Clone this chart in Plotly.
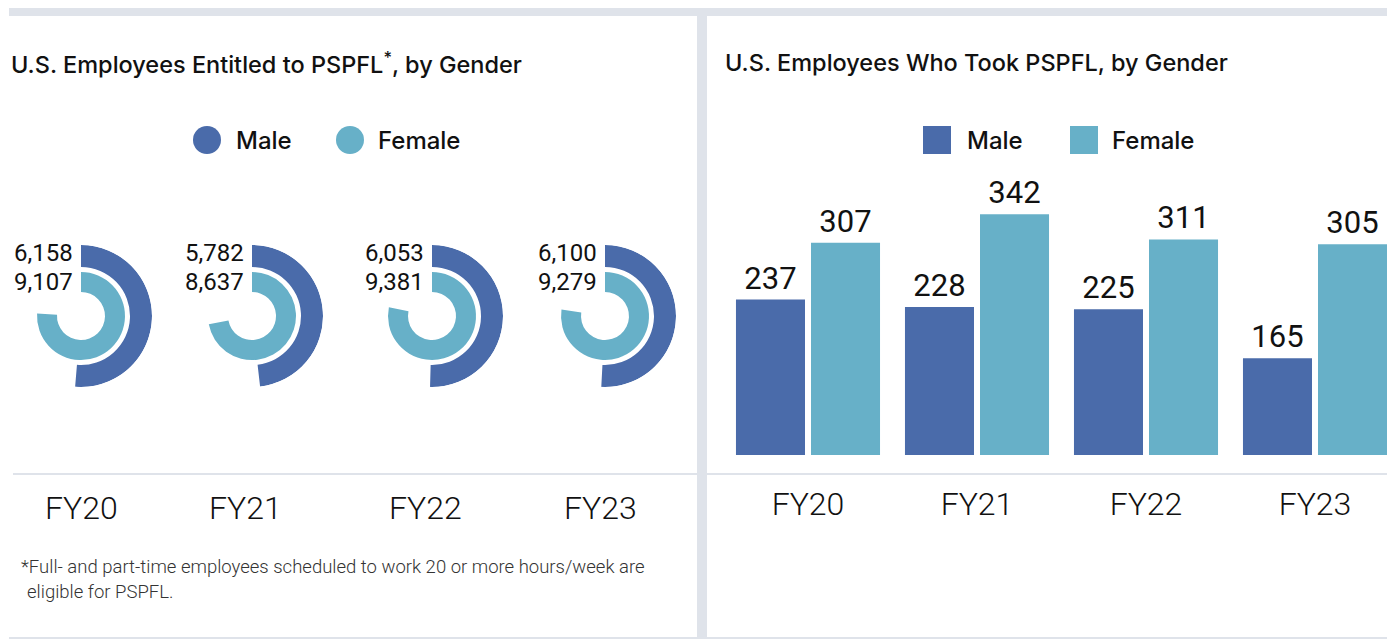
import plotly.graph_objects as go

# ---------------- data ----------------
years = ["FY20", "FY21", "FY22", "FY23"]
entitled_male = [6158, 5782, 6053, 6100]
entitled_female = [9107, 8637, 9381, 9279]
took_male = [237, 228, 225, 165]
took_female = [307, 342, 311, 305]

title_left = "U.S. Employees Entitled to PSPFL<sup>*</sup>, by Gender"
title_right = "U.S. Employees Who Took PSPFL, by Gender"
footnote_1 = "*Full- and part-time employees scheduled to work 20 or more hours/week are"
footnote_2 = "eligible for PSPFL."

# ---------------- style ----------------
MALE = "#4a6baa"
FEMALE = "#67b0c8"
GRID = "#dfe3ea"
TXT = "#111111"
FONT = "Roboto, 'Liberation Sans', Arial, sans-serif"
HEAD = "Inter, Roboto, Arial, sans-serif"
SCREEN_W, SCREEN_H = 1395, 639
OFF = 8                          # page body margin
W, H = SCREEN_W - OFF, SCREEN_H - OFF
FULL_CIRCLE = 12000              # entitled value shown as a full 360° turn
Y_MIN = 46                       # baseline value of the bar axis
PX_PER_UNIT = 0.8136


def px(x):
    return (x - OFF) / W


def py(y):
    return 1 - (y - OFF) / H


fig = go.Figure()

# ---------------- radial bars (left panel) ----------------
ring_cx = [81, 252, 432, 605]
ring_cy = 316
R_OUT = 71
rings = [("Male", entitled_male, 49, 22, MALE), ("Female", entitled_female, 24, 20, FEMALE)]
for i, yr in enumerate(years):
    sub = "polar" if i == 0 else f"polar{i + 1}"
    for name, vals, base, thick, color in rings:
        ang = vals[i] / FULL_CIRCLE * 360.0
        fig.add_trace(go.Barpolar(
            r=[thick], base=[base], theta=[ang / 2], width=[ang],
            marker=dict(color=color, line=dict(width=0)),
            name=name, subplot=sub, showlegend=False,
            hovertemplate=f"{yr} {name}: {vals[i]:,}<extra></extra>",
        ))
    cx = ring_cx[i]
    fig.update_layout({sub: dict(
        domain=dict(x=[px(cx - R_OUT), px(cx + R_OUT)],
                    y=[py(ring_cy + R_OUT), py(ring_cy - R_OUT)]),
        bgcolor="rgba(0,0,0,0)",
        angularaxis=dict(visible=False, rotation=90, direction="clockwise"),
        radialaxis=dict(visible=False, range=[0, R_OUT]),
    )})
    for vals, yy in [(entitled_male, 253), (entitled_female, 282)]:
        fig.add_annotation(x=px(cx - 6), y=py(yy), xref="paper", yref="paper",
                           text=f"{vals[i]:,}", showarrow=False, xanchor="right",
                           yanchor="middle", font=dict(family=FONT, size=24, color=TXT))

fy_left_x = [81, 245, 425, 600]
for i, yr in enumerate(years):
    fig.add_annotation(x=px(fy_left_x[i]), y=py(508), xref="paper", yref="paper",
                       text=yr, showarrow=False, xanchor="center", yanchor="middle",
                       font=dict(family=FONT, size=32, color=TXT, weight=300))

# ---------------- grouped bars (right panel) ----------------
for name, vals, color in [("Male", took_male, MALE), ("Female", took_female, FEMALE)]:
    fig.add_trace(go.Bar(
        x=years, y=vals, name=name, marker=dict(color=color, line=dict(width=0)),
        text=vals, texttemplate="%{y}", textposition="outside", constraintext="none",
        textfont=dict(family=FONT, size=31, color=TXT),
        showlegend=False, xaxis="x", yaxis="y",
    ))

x_left_px = 723.5
fig.update_layout(
    barmode="group", bargap=0.112, bargroupgap=0.08,
    xaxis=dict(domain=[px(x_left_px), 1.0],
               range=[-0.5, -0.5 + (SCREEN_W - x_left_px) / 169.0],
               showgrid=False, zeroline=False, showline=False, ticks="",
               tickfont=dict(family=FONT, size=32, color=TXT, weight=300),
               ticklabelstandoff=27, fixedrange=True),
    yaxis=dict(domain=[py(455), py(160)],
               range=[Y_MIN, Y_MIN + (455 - 160) / PX_PER_UNIT],
               visible=False, showgrid=False, zeroline=False, fixedrange=True),
)

# ---------------- decorations ----------------
shapes = [
    dict(x0=9, x1=1390, y0=6, y1=16),
    dict(x0=697, x1=707, y0=6, y1=639),
    dict(x0=13, x1=697, y0=473, y1=475),
    dict(x0=707, x1=1392, y0=473, y1=475),
    dict(x0=9, x1=1390, y0=637, y1=639),
]
for s in shapes:
    fig.add_shape(type="rect", xref="paper", yref="paper",
                  x0=px(s["x0"]), x1=px(s["x1"]), y0=py(s["y1"]), y1=py(s["y0"]),
                  fillcolor=GRID, line=dict(width=0), layer="below")

leg_font = dict(family=HEAD, size=24, color=TXT, weight=500)
for shape_type, items in [
    ("circle", [(193, MALE, 234, "Male"), (336, FEMALE, 376, "Female")]),
    ("rect", [(923, MALE, 965, "Male"), (1070, FEMALE, 1110, "Female")]),
]:
    for x0, color, tx, label in items:
        fig.add_shape(type=shape_type, xref="paper", yref="paper",
                      x0=px(x0), x1=px(x0 + 28), y0=py(154), y1=py(126),
                      fillcolor=color, line=dict(width=0))
        fig.add_annotation(x=px(tx), y=py(140), xref="paper", yref="paper", text=label,
                           showarrow=False, xanchor="left", yanchor="middle", font=leg_font)

title_font = dict(family=HEAD, size=23.5, color=TXT, weight=500)
fig.add_annotation(x=px(9), y=py(63), xref="paper", yref="paper", text=title_left,
                   showarrow=False, xanchor="left", yanchor="middle", font=title_font)
fig.add_annotation(x=px(723), y=py(63), xref="paper", yref="paper", text=title_right,
                   showarrow=False, xanchor="left", yanchor="middle", font=title_font)

foot_font = dict(family=FONT, size=18.5, color="#333333", weight=300)
fig.add_annotation(x=px(19), y=py(567), xref="paper", yref="paper", text=footnote_1,
                   showarrow=False, xanchor="left", yanchor="middle", font=foot_font)
fig.add_annotation(x=px(25), y=py(592), xref="paper", yref="paper", text=footnote_2,
                   showarrow=False, xanchor="left", yanchor="middle", font=foot_font)

fig.update_layout(
    width=W, height=H, margin=dict(l=0, r=0, t=0, b=0),
    paper_bgcolor="white", plot_bgcolor="rgba(0,0,0,0)",
    showlegend=False, font=dict(family=FONT, color=TXT),
)

fig.write_html("out.html", config={"displayModeBar": False})
